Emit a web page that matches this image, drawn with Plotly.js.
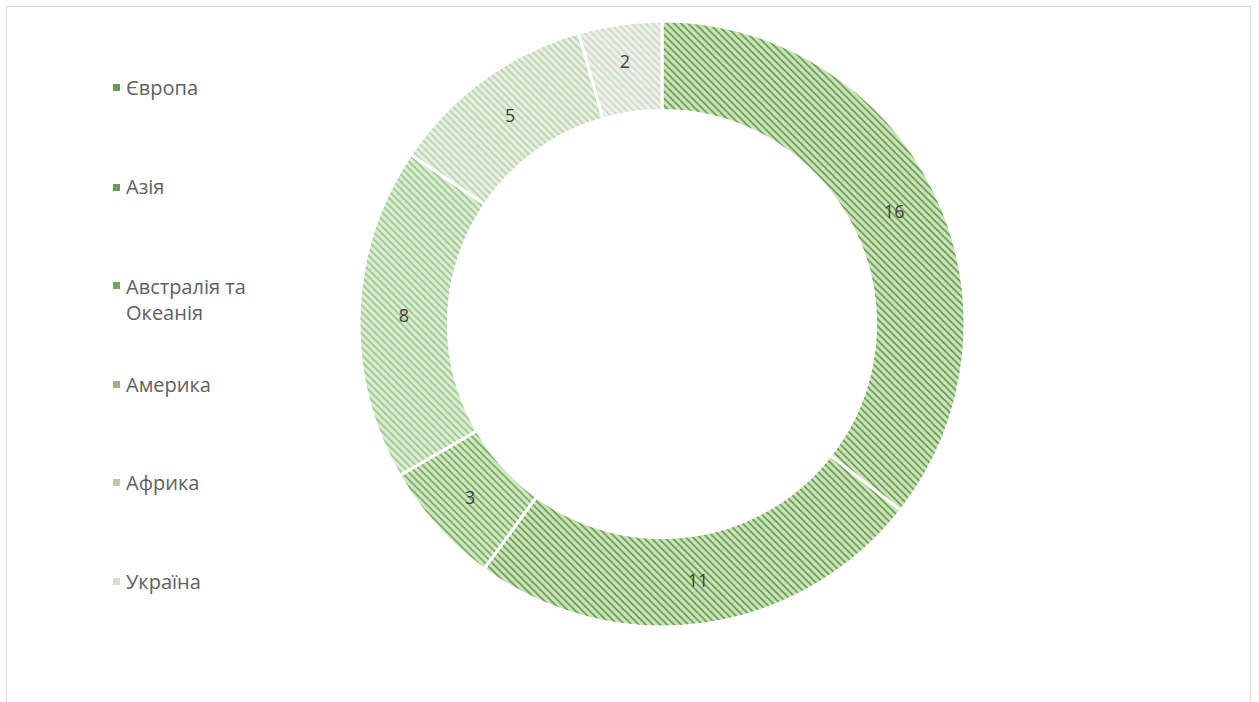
<!DOCTYPE html>
<html>
<head>
<meta charset="utf-8">
<script src="https://cdn.plot.ly/plotly-3.0.1.min.js"></script>
<style>
  body { margin: 0; padding: 0; background: #ffffff; }
  #frame { position: absolute; left: 6px; top: 6px; width: 1245px; height: 720px; border: 1px solid #d9d9d9; box-sizing: border-box; }
  #chart { position: absolute; left: 0; top: 0; width: 1259px; height: 702px; }
</style>
</head>
<body>
<div id="frame"></div>
<div id="chart"></div>
<script>
// Data
const categories = ["Європа", "Азія", "Австралія та<br>Океанія", "Америка", "Африка", "Україна"];
const values = [16, 11, 3, 8, 5, 2];

// Styles
const bgColors = ["#cbe7b9", "#cbe7b9", "#d0eac2", "#dbeed2", "#e5f0df", "#edf1ea"];
const fgColors = ["#6e9a5a", "#6e9a5a", "#7aa867", "#a2c493", "#bcd2b1", "#cfd9ca"];
const legendColors = ["#6a9a56", "#6a9a56", "#74a95c", "#8fb97c", "#b6cca9", "#d6ddd2"];

const trace = {
  type: "pie",
  labels: categories,
  values: values,
  hole: 0.705,
  sort: false,
  direction: "clockwise",
  rotation: 0,
  textinfo: "value",
  textposition: "inside",
  insidetextorientation: "horizontal",
  textfont: { family: "Open Sans, Liberation Sans, sans-serif", size: 18, color: "#404040" },
  marker: {
    colors: bgColors,
    line: { color: "#ffffff", width: 3 },
    pattern: {
      shape: "\\",
      bgcolor: bgColors,
      fgcolor: fgColors,
      size: 5,
      solidity: 0.35
    }
  },
  domain: { x: [(662 - 303) / 1259, (662 + 303) / 1259], y: [1 - 627 / 702, 1 - 21 / 702] },
  showlegend: false,
  hoverinfo: "label+value"
};

// Legend built from categories
const legendY = [87, 187, 299, 384, 482, 581];
const annotations = [];
const shapes = [];
categories.forEach((c, i) => {
  annotations.push({
    xref: "paper", yref: "paper",
    x: 124 / 1259, y: 1 - legendY[i] / 702,
    xanchor: "left", yanchor: "middle",
    text: c, showarrow: false, align: "left",
    font: { family: "Open Sans, Liberation Sans, sans-serif", size: 20, color: "#606060" }
  });
  const sy = (categories[i].indexOf("<br>") >= 0) ? legendY[i] - 14 : legendY[i];
  shapes.push({
    type: "rect", xref: "paper", yref: "paper",
    x0: 113 / 1259, x1: 120 / 1259,
    y0: 1 - (sy + 4) / 702, y1: 1 - (sy - 3) / 702,
    fillcolor: legendColors[i], line: { width: 0 }
  });
});

const layout = {
  width: 1259, height: 702,
  margin: { l: 0, r: 0, t: 0, b: 0 },
  paper_bgcolor: "rgba(0,0,0,0)",
  plot_bgcolor: "rgba(0,0,0,0)",
  annotations: annotations,
  shapes: shapes
};

Plotly.newPlot("chart", [trace], layout, { displayModeBar: false, staticPlot: true });
</script>
</body>
</html>
